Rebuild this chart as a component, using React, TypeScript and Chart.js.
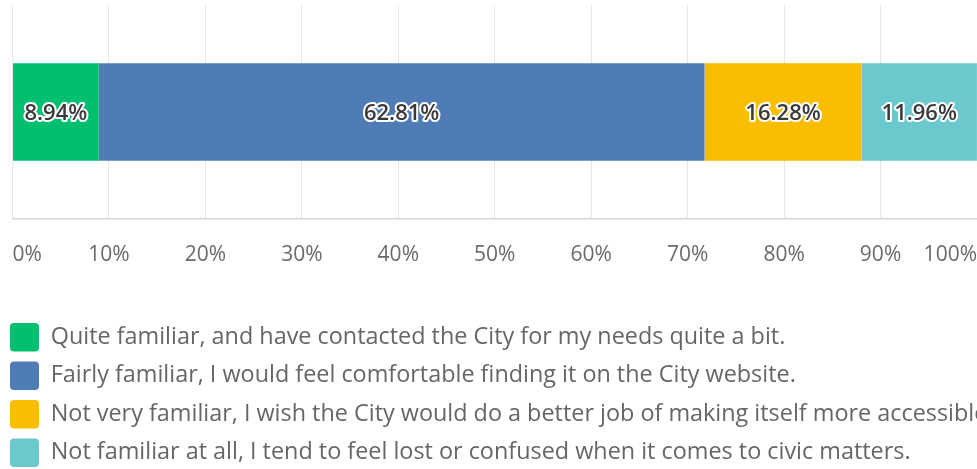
import React, { useEffect, useRef } from "react";
import { Chart, registerables } from "chart.js";

Chart.register(...registerables);

const categories = [""];
const seriesLabels = [
  "Quite familiar, and have contacted the City for my needs quite a bit.",
  "Fairly familiar, I would feel comfortable finding it on the City website.",
  "Not very familiar, I wish the City would do a better job of making itself more accessible.",
  "Not familiar at all, I tend to feel lost or confused when it comes to civic matters.",
];
const seriesValues = [8.94, 62.81, 16.28, 11.96];
const seriesColors = ["#00BF6F", "#507CB6", "#F9BE00", "#6BC8CD"];
const tickValues = [0, 10, 20, 30, 40, 50, 60, 70, 80, 90, 100];

const FONT = "'Open Sans', 'Noto Sans', sans-serif";

const barLabels = {
  id: "barLabels",
  afterDatasetsDraw(chart: any) {
    const ctx = chart.ctx;
    ctx.save();
    ctx.font = `600 22px ${FONT}`;
    ctx.textAlign = "center";
    ctx.textBaseline = "middle";
    ctx.lineJoin = "round";
    chart.data.datasets.forEach((ds: any, i: number) => {
      const meta = chart.getDatasetMeta(i);
      meta.data.forEach((el: any, j: number) => {
        const p = el.getProps(["x", "y", "base"], true);
        const cx = (p.x + p.base) / 2;
        const text = Number(ds.data[j]).toFixed(2) + "%";
        ctx.lineWidth = 4;
        ctx.strokeStyle = "#ffffff";
        ctx.strokeText(text, cx, p.y + 2);
        ctx.fillStyle = "#3a3a3a";
        ctx.fillText(text, cx, p.y + 2);
      });
    });
    ctx.restore();
  },
};

export default function App() {
  const ref = useRef<HTMLCanvasElement | null>(null);
  useEffect(() => {
    if (!ref.current) return;
    const chart = new Chart(ref.current, {
      type: "bar",
      data: {
        labels: categories,
        datasets: seriesLabels.map((label, i) => ({
          label,
          data: [seriesValues[i]],
          backgroundColor: seriesColors[i],
          borderWidth: 0,
          barPercentage: 0.455,
          categoryPercentage: 1,
        })),
      },
      options: {
        indexAxis: "y",
        responsive: false,
        animation: false,
        layout: { padding: { top: 5, right: 0, left: 0, bottom: 0 } },
        scales: {
          x: {
            stacked: true,
            min: 0,
            max: 100,
            afterBuildTicks: (s: any) => {
              s.ticks = tickValues.map((v) => ({ value: v }));
            },
            afterFit: (s: any) => {
              s.height = 94;
            },
            grid: {
              color: "#e8e8e8",
              lineWidth: 1,
              drawTicks: true,
              tickLength: 23.5,
              tickColor: "rgba(0,0,0,0)",
            },
            border: { display: true, color: "#d6d6d6", width: 1.5 },
            ticks: {
              align: "inner",
              padding: 0,
              color: "#6a6a6a",
              font: { family: FONT, size: 21 },
              callback: (v: any) => v + "%",
            },
          },
          y: {
            stacked: true,
            grid: { display: false },
            border: { display: false },
            ticks: { display: false },
            afterFit: (s: any) => {
              s.width = 12.5;
            },
          },
        },
        plugins: {
          tooltip: { enabled: false },
          legend: {
            position: "bottom",
            align: "start",
            labels: {
              boxWidth: 29,
              boxHeight: 28.5,
              padding: 10,
              color: "#666666",
              useBorderRadius: true,
              borderRadius: 4,
              font: { family: FONT, size: 23.4 },
            },
          },
        },
      },
      plugins: [barLabels],
    } as any);
    return () => chart.destroy();
  }, []);
  return (
    <div
      style={{
        position: "fixed",
        left: 0,
        top: 0,
        width: 977,
        height: 469,
        overflow: "hidden",
        background: "#ffffff",
      }}
    >
      <canvas ref={ref} width={977} height={477} style={{ display: "block" }} />
    </div>
  );
}
